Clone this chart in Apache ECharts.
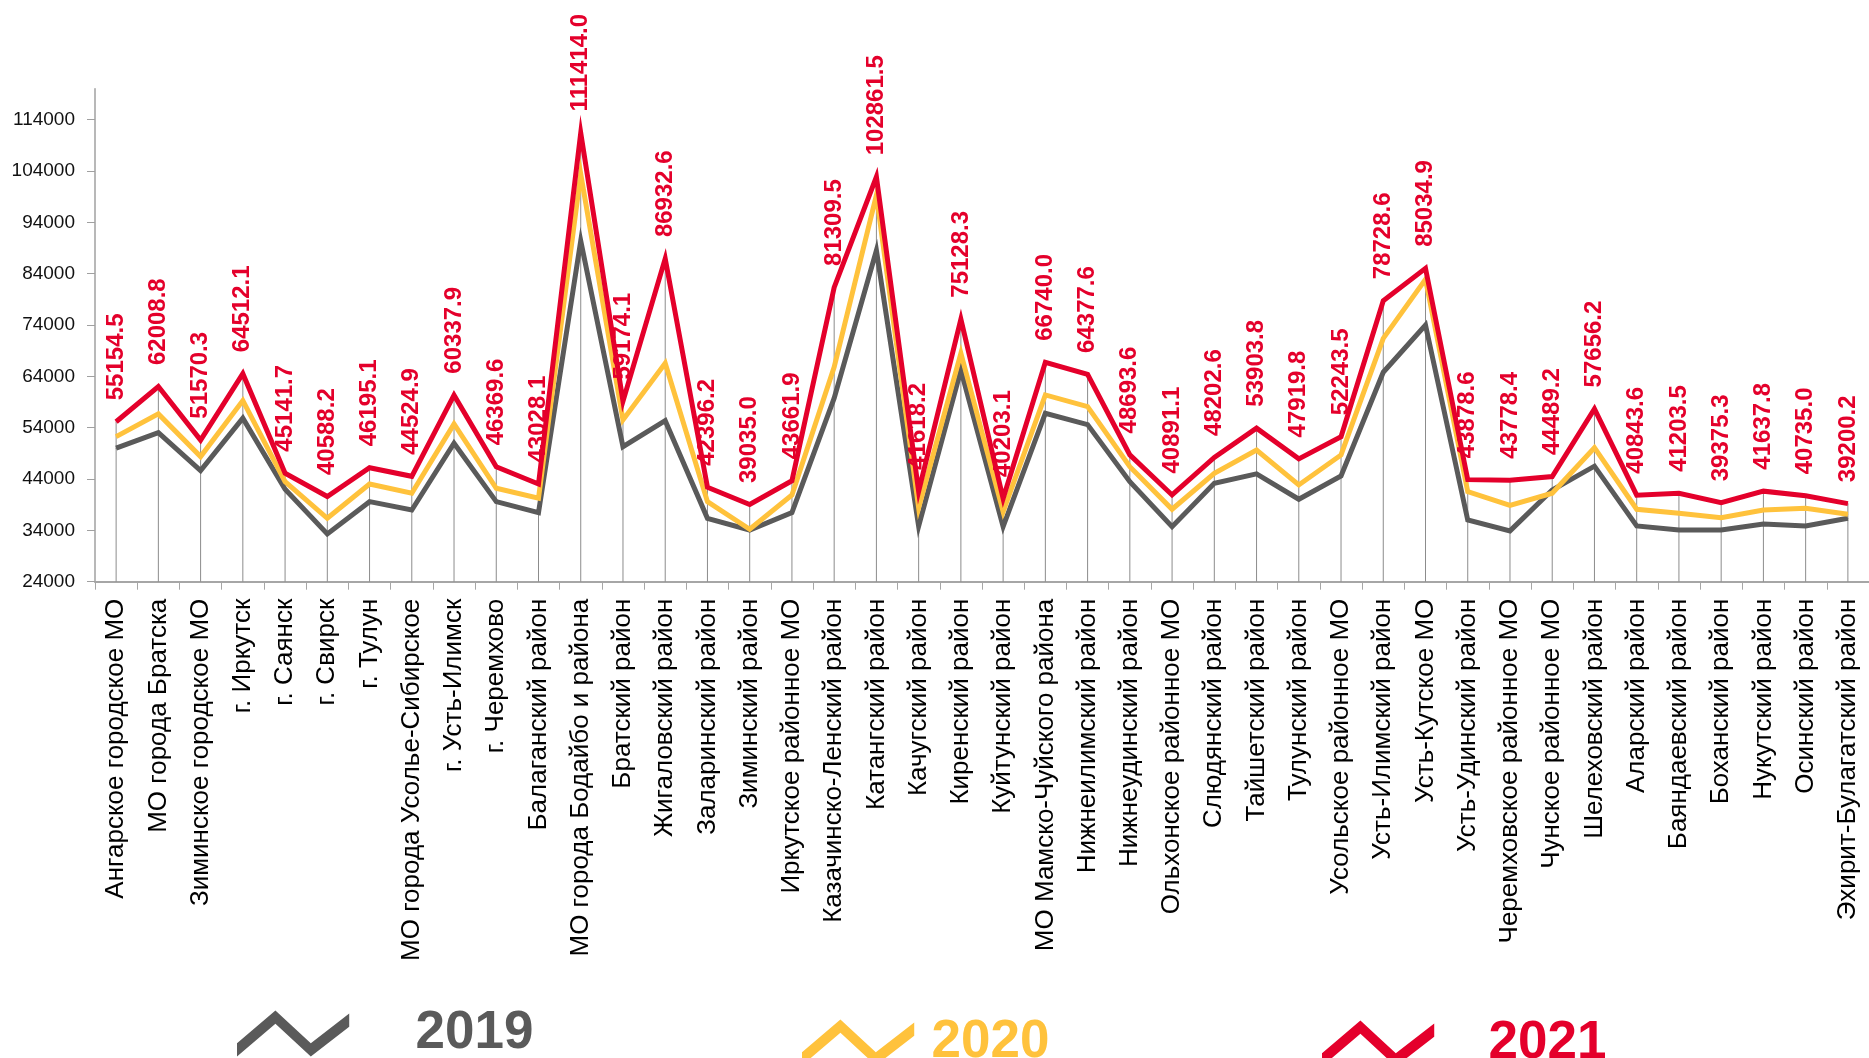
<!DOCTYPE html>
<html>
<head>
<meta charset="utf-8">
<script src="https://cdn.jsdelivr.net/npm/echarts@6/dist/echarts.min.js"></script>
<style>
  html, body { margin: 0; padding: 0; background: #fff; }
  #chart { width: 1869px; height: 1058px; }
</style>
</head>
<body>
<div id="chart"></div>
<script>
var districts = ['Ангарское городское МО', 'МО города Братска', 'Зиминское городское МО', 'г. Иркутск', 'г. Саянск',
    'г. Свирск', 'г. Тулун', 'МО города Усолье-Сибирское', 'г. Усть-Илимск', 'г. Черемхово', 'Балаганский район',
    'МО города Бодайбо и района', 'Братский район', 'Жигаловский район', 'Заларинский район', 'Зиминский район',
    'Иркутское районное МО', 'Казачинско-Ленский район', 'Катангский район', 'Качугский район', 'Киренский район',
    'Куйтунский район', 'МО Мамско-Чуйского района', 'Нижнеилимский район', 'Нижнеудинский район',
    'Ольхонское районное МО', 'Слюдянский район', 'Тайшетский район', 'Тулунский район', 'Усольское районное МО',
    'Усть-Илимский район', 'Усть-Кутское МО', 'Усть-Удинский район', 'Черемховское районное МО',
    'Чунское районное МО', 'Шелеховский район', 'Аларский район', 'Баяндаевский район', 'Боханский район',
    'Нукутский район', 'Осинский район', 'Эхирит-Булагатский район'];

var y2019 = [50000, 53030, 45630, 55840, 42000, 33290, 39590, 37970, 50970, 39590, 37450,
    90370, 50300, 55370, 36350, 34070, 37450, 59740, 88500, 34800, 65200,
    34720, 56810, 54600, 43490, 34720, 43170, 44990, 40060, 44600, 64800,
    74000, 36020, 33900, 41870, 46500, 34850, 34070, 34070, 35240, 34850, 36350];

var y2020 = [52250, 56680, 48360, 59270, 43490, 36350, 43040, 41230, 54730, 42200, 40250,
    103400, 55510, 66560, 39590, 34210, 40890, 65800, 99300, 38400, 68500,
    37640, 60380, 58100, 46410, 38110, 45120, 49660, 42840, 48690, 71400,
    82900, 41540, 38850, 41230, 50100, 38110, 37330, 36470, 37970, 38300, 37130];

var y2021 = [55154.5, 62008.8, 51570.3, 64512.1, 45141.7, 40588.2, 46195.1, 44524.9, 60337.9, 46369.6, 43028.1,
    111414.0, 59174.1, 86932.6, 42396.2, 39035.0, 43661.9, 81309.5, 102861.5, 41618.2, 75128.3,
    40203.1, 66740.0, 64377.6, 48693.6, 40891.1, 48202.6, 53903.8, 47919.8, 52243.5, 78728.6,
    85034.9, 43878.6, 43778.4, 44489.2, 57656.2, 40843.6, 41203.5, 39375.3, 41637.8, 40735.0, 39200.2];

var yTicks = [24000, 34000, 44000, 54000, 64000, 74000, 84000, 94000, 104000, 114000];

var cGrey = '#5a5a5a', cYellow = '#ffc23c', cRed = '#e4002b';
var font = "'Liberation Sans', Arial, sans-serif";
var zigzag = 'path://M0 32.5 L38 0 L73 32.5 L111 3 L111 16 L73 45.5 L38 13 L0 45.5 Z';

function legendFor(name, left, top, gap, color) {
    return {
        data: [name],
        left: left,
        top: top,
        padding: 0,
        icon: zigzag,
        itemWidth: 115,
        itemHeight: 46,
        selectedMode: false,
        itemStyle: { borderWidth: 0 },
        textStyle: {
            fontFamily: font,
            fontSize: 53,
            fontWeight: 'bold',
            color: color,
            padding: [0, 0, 0, gap]
        }
    };
}

var chart = echarts.init(document.getElementById('chart'));
var option = {
    backgroundColor: '#fff',
    animation: false,
    textStyle: { fontFamily: font },
    legend: [
        legendFor('2019', 237, 1007, 60, cGrey),
        legendFor('2020', 802, 1016, 11, cYellow),
        legendFor('2021', 1322, 1017, 48, cRed)
    ],
    grid: {
        left: 95,
        right: -10.6,
        top: 88.8,
        bottom: 476.3,
        containLabel: false
    },
    xAxis: {
        type: 'category',
        boundaryGap: true,
        data: districts,
        axisLine: { lineStyle: { color: '#a6a6a6', width: 2 } },
        axisTick: { show: true, alignWithLabel: false, length: 8, lineStyle: { color: '#a6a6a6' } },
        axisLabel: {
            interval: 0,
            rotate: 90,
            margin: 17,
            fontSize: 26,
            color: '#000',
            fontFamily: font
        }
    },
    yAxis: {
        type: 'value',
        min: 24000,
        max: 120000,
        splitLine: { show: false },
        axisLine: { show: true, lineStyle: { color: '#a0a0a0', width: 1.5 } },
        axisTick: { show: true, length: 8, customValues: yTicks, lineStyle: { color: '#a0a0a0' } },
        axisLabel: {
            customValues: yTicks,
            margin: 20,
            fontSize: 19,
            color: '#111',
            fontFamily: font,
            formatter: function (v) { return String(v); }
        }
    },
    series: [
        {
            name: 'drop',
            type: 'bar',
            data: y2021,
            barWidth: 1,
            clip: true,
            silent: true,
            itemStyle: { color: '#8c8c8c' },
            z: 1
        },
        {
            name: '2019',
            type: 'line',
            data: y2019,
            symbol: 'circle',
            symbolSize: 1,
            itemStyle: { color: cGrey },
            lineStyle: { color: cGrey, width: 5, join: 'miter' },
            z: 2
        },
        {
            name: '2020',
            type: 'line',
            data: y2020,
            symbol: 'circle',
            symbolSize: 1,
            itemStyle: { color: cYellow },
            lineStyle: { color: cYellow, width: 5, join: 'miter' },
            z: 3
        },
        {
            name: '2021',
            type: 'line',
            data: y2021,
            symbol: 'circle',
            symbolSize: 1,
            itemStyle: { color: cRed },
            lineStyle: { color: cRed, width: 5, join: 'miter' },
            z: 4,
            label: {
                show: true,
                position: 'top',
                distance: 21,
                rotate: 90,
                align: 'left',
                verticalAlign: 'middle',
                fontSize: 24,
                fontWeight: 'bold',
                color: cRed,
                fontFamily: font,
                formatter: function (p) { return p.value.toFixed(1); }
            }
        }
    ]
};
chart.setOption(option);
</script>
</body>
</html>
